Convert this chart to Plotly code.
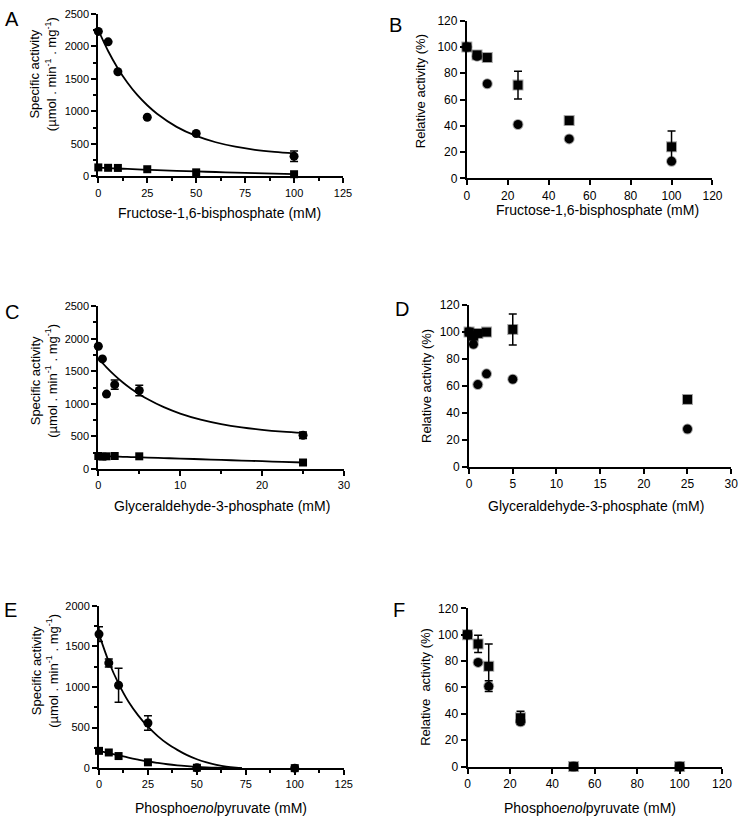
import plotly.graph_objects as go

# ---------------- data ----------------
# Panel A: specific activity vs fructose-1,6-bisphosphate
A_x = [0, 5, 10, 25, 50, 100]
A_circle = [2230, 2070, 1610, 910, 660, 310]
A_circle_err = [0, 0, 0, 0, 0, 80]
A_square = [138, 132, 130, 110, 62, 33]
A_curve_x = [0, 5, 10, 15, 20, 25, 30, 40, 50, 60, 70, 80, 90, 100]
A_curve_circle = [2250, 1929, 1661, 1437, 1249, 1094, 963, 762, 622, 525, 457, 409, 376, 353]
A_curve_square = [135, 128, 121, 114, 108, 102, 96, 86, 76, 67, 58, 50, 42, 35]

# Panel B: relative activity vs fructose-1,6-bisphosphate
B_x = [0, 5, 10, 25, 50, 100]
B_square = [100, 94, 92, 71, 44, 24]
B_square_err = [0, 2, 0, 10.5, 0, 12]
B_circle = [100, 93, 72, 41, 30, 13]

# Panel C: specific activity vs glyceraldehyde-3-phosphate
C_x = [0, 0.5, 1, 2, 5, 25]
C_circle = [1885, 1690, 1150, 1295, 1205, 518]
C_circle_err = [0, 0, 0, 70, 80, 50]
C_square = [200, 190, 195, 200, 195, 100]
C_curve_x = [0, 1, 2, 3, 4, 5, 6, 8, 10, 12.5, 15, 17.5, 20, 22.5, 25]
C_curve_circle = [1700, 1561, 1438, 1329, 1233, 1149, 1074, 949, 851, 758, 690, 639, 602, 575, 555]
C_curve_square = [200, 196, 192, 188, 184, 180, 176, 168, 160, 150, 140, 130, 120, 110, 100]

# Panel D: relative activity vs glyceraldehyde-3-phosphate
D_x = [0, 0.5, 1, 2, 5, 25]
D_square = [100, 97, 99, 100, 102, 50]
D_square_err = [0, 0, 0, 0, 11.5, 0]
D_circle = [100, 91, 61, 69, 65, 28]

# Panel E: specific activity vs phosphoenolpyruvate
E_x = [0, 5, 10, 25, 50, 100]
E_circle = [1650, 1295, 1020, 556, 5, 0]
E_circle_err = [90, 50, 210, 90, 0, 0]
E_square = [213, 193, 149, 72, 5, 0]
E_curve_x = [0, 5, 10, 15, 20, 25, 30, 35, 40, 45, 50, 55, 60, 65, 70, 73]
E_curve_circle = [1650, 1310, 1040, 820, 650, 510, 395, 300, 225, 160, 110, 70, 40, 18, 5, 0]
E_curve_square = [212, 185, 158, 130, 105, 82, 64, 48, 35, 24, 15, 9, 5, 2, 0, 0]

# Panel F: relative activity vs phosphoenolpyruvate
F_x = [0, 5, 10, 25, 50, 100]
F_square = [100, 93, 76, 37, 0, 0]
F_square_err = [0, 6.5, 17, 5, 0, 0]
F_circle = [100, 79, 61, 34, 0, 0]
F_circle_err = [0, 0, 4, 0, 0, 0]

# ---------------- figure ----------------
W, H = 750, 825
FONT = "Arial, 'Liberation Sans', Helvetica, sans-serif"


def px(x):
    return x / W


def py(y):
    return 1 - y / H


fig = go.Figure()


def add_curve(xs, ys, ax):
    fig.add_trace(go.Scatter(x=xs, y=ys, mode="lines", line=dict(color="black", width=1.8, shape="spline"),
                             xaxis="x" + ax, yaxis="y" + ax, showlegend=False, hoverinfo="skip",
                             cliponaxis=False))


def add_points(xs, ys, ax, symbol, size, err=None, soft=False):
    marker = dict(symbol=symbol, size=size, color="black")
    if soft:
        marker["line"] = dict(color="rgba(0,0,0,0.35)", width=2)
    else:
        marker["line"] = dict(width=0)
    tr = dict(x=xs, y=ys, mode="markers", marker=marker, xaxis="x" + ax, yaxis="y" + ax,
              showlegend=False, cliponaxis=False)
    if err is not None:
        tr["error_y"] = dict(type="data", array=err, color="black", thickness=1.5, width=4)
    fig.add_trace(go.Scatter(**tr))


# A
add_curve(A_curve_x, A_curve_circle, "")
add_curve(A_curve_x, A_curve_square, "")
add_points(A_x, A_circle, "", "circle", 9, A_circle_err)
add_points(A_x, A_square, "", "square", 8)
# B
add_points(B_x, B_circle, "2", "circle", 9, soft=True)
add_points(B_x, B_square, "2", "square", 9, B_square_err, soft=True)
# C
add_curve(C_curve_x, C_curve_circle, "3")
add_curve(C_curve_x, C_curve_square, "3")
add_points(C_x, C_circle, "3", "circle", 9, C_circle_err)
add_points(C_x, C_square, "3", "square", 8)
# D
add_points(D_x, D_circle, "4", "circle", 9, soft=True)
add_points(D_x, D_square, "4", "square", 9, D_square_err, soft=True)
# E
add_curve(E_curve_x, E_curve_circle, "5")
add_curve(E_curve_x, E_curve_square, "5")
add_points(E_x, E_circle, "5", "circle", 9, E_circle_err)
add_points(E_x, E_square, "5", "square", 8)
# F
add_points(F_x, F_circle, "6", "circle", 9, F_circle_err, soft=True)
add_points(F_x, F_square, "6", "square", 9, F_square_err, soft=True)


def axis(domain, rng, dtick, anchor, minor=None, fsize=11):
    d = dict(domain=domain, range=rng, dtick=dtick, tick0=0, anchor=anchor,
             showline=True, linecolor="black", linewidth=2,
             ticks="outside", ticklen=5, tickwidth=1.5, tickcolor="black",
             showgrid=False, zeroline=False, fixedrange=True,
             tickfont=dict(size=fsize, color="black", family=FONT))
    if minor:
        d["minor"] = dict(dtick=minor, tick0=0, ticks="outside", ticklen=3, tickwidth=1.5,
                          tickcolor="black", showgrid=False)
    return d


layout = dict(
    width=W, height=H, margin=dict(l=0, r=0, t=0, b=0),
    paper_bgcolor="white", plot_bgcolor="white",
    font=dict(family=FONT, color="black"),
    xaxis=axis([px(97), px(346)], [0, 125], 25, "y", 12.5),
    yaxis=axis([py(172.3), py(7)], [0, 2500], 500, "x", 250),
    xaxis2=axis([px(472), px(722)], [0, 120], 20, "y2", fsize=12),
    yaxis2=axis([py(174.3), py(14)], [0, 120], 20, "x2", fsize=12),
    xaxis3=axis([px(97), px(347)], [0, 30], 10, "y3", 5),
    yaxis3=axis([py(470), py(304.3)], [0, 2500], 500, "x3", 250),
    xaxis4=axis([px(474.3), px(741)], [0, 30], 5, "y4", fsize=12),
    yaxis4=axis([py(467.7), py(303.3)], [0, 120], 20, "x4", fsize=12),
    xaxis5=axis([px(97.7), px(346.7)], [0, 125], 25, "y5", 12.5),
    yaxis5=axis([py(774.3), py(609)], [0, 2000], 500, "x5", 250),
    xaxis6=axis([px(472.7), px(731.7)], [0, 120], 20, "y6", fsize=12),
    yaxis6=axis([py(772.7), py(611.7)], [0, 120], 20, "x6", fsize=12),
)
fig.update_layout(**layout)

ann = []


def text(x, y, s, size, angle=0):
    ann.append(dict(x=px(x), y=py(y), xref="paper", yref="paper", text=s, showarrow=False,
                    xanchor="center", yanchor="middle", textangle=angle,
                    font=dict(size=size, color="black", family=FONT)))


# panel letters
for (lx, ly, s) in [(9, 12, "A"), (399, 18, "B"), (9, 310, "C"), (406, 307, "D"), (8, 613, "E"), (403, 613, "F")]:
    text(lx, ly, s, 20)

spec = "Specific activity<br>(µmol . min<sup>-1</sup> . mg<sup>-1</sup>)"
text(41, 68, spec, 13, -90)
text(41, 380, spec, 13, -90)
text(42, 675, spec, 13, -90)
text(425, 86, "Relative activity (%)", 13, -90)
text(431, 386, "Relative activity (%)", 13, -90)
text(430, 692, "Relative  activity (%)", 13, -90)

text(220, 210, "Fructose-1,6-bisphosphate (mM)", 14)
text(605, 206, "Fructose-1,6-bisphosphate (mM)", 14)
text(223, 508, "Glyceraldehyde-3-phosphate (mM)", 14)
text(603, 508, "Glyceraldehyde-3-phosphate (mM)", 14)
text(222, 815, "Phospho<i>enol</i>pyruvate (mM)", 14)
text(597, 815, "Phospho<i>enol</i>pyruvate (mM)", 14)

fig.update_layout(annotations=ann)
fig.write_html(
    "out.html",
    config={"displayModeBar": False},
    post_script="document.body.style.margin='0';document.body.style.padding='0';"
                "document.documentElement.style.margin='0';",
)
